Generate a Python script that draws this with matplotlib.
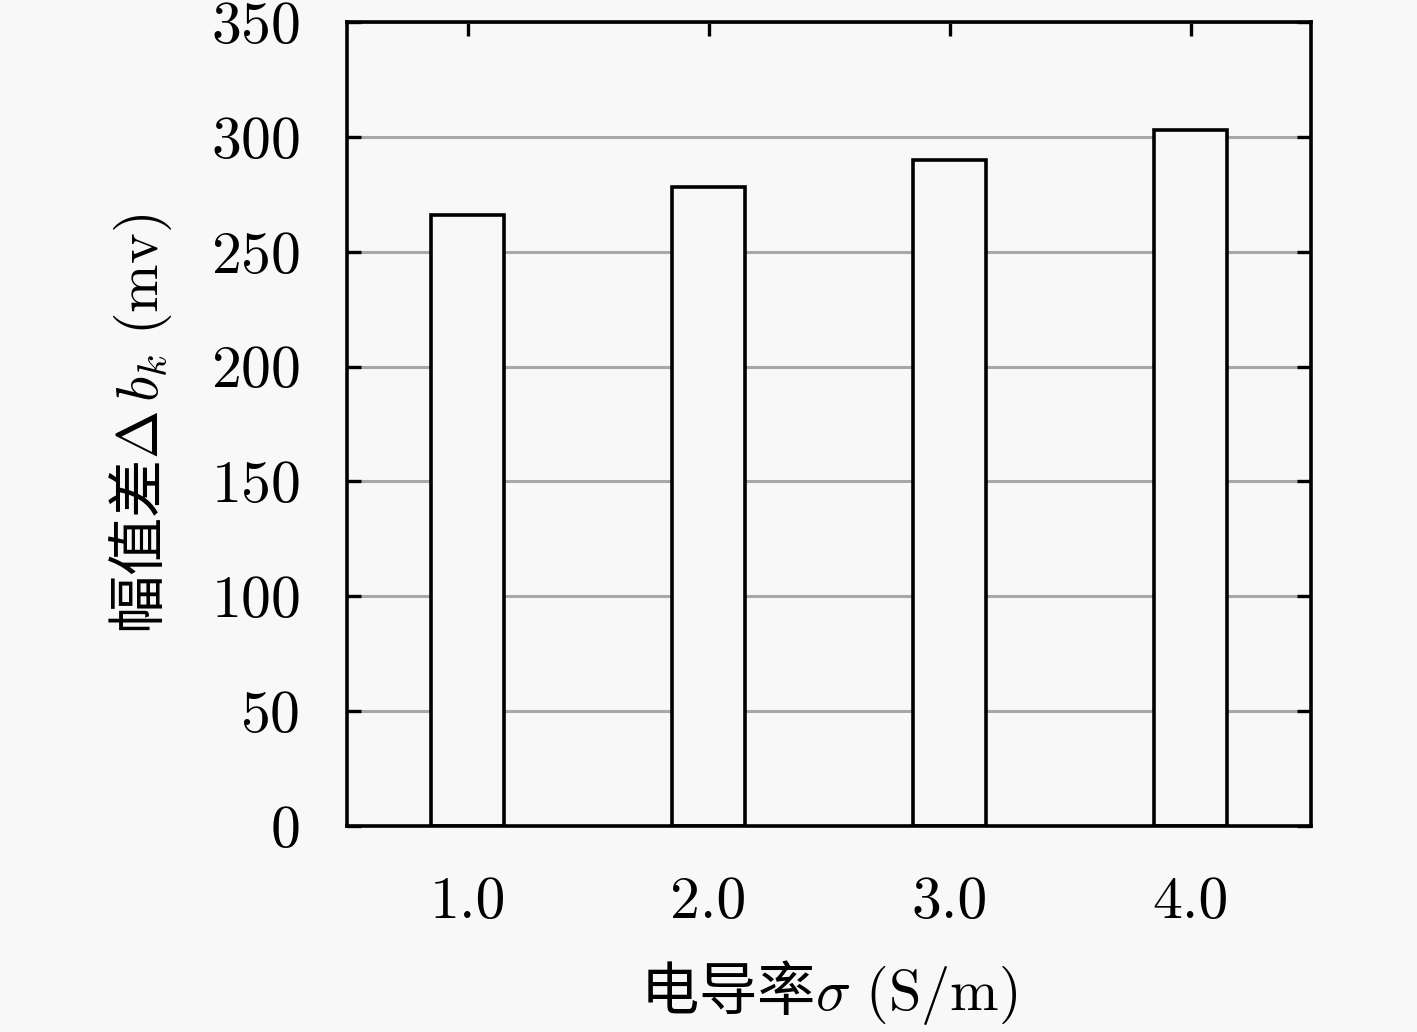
import matplotlib
matplotlib.use("Agg")
import matplotlib.pyplot as plt

# datos
sigma = [1.0, 2.0, 3.0, 4.0]
delta_b = [266, 278, 290, 303]
xlabels = ["1.0", "2.0", "3.0", "4.0"]
yticks = [0, 50, 100, 150, 200, 250, 300, 350]

plt.rcParams['font.family'] = ['cmr10', 'DejaVu Serif']
plt.rcParams['mathtext.fontset'] = 'cm'
plt.rcParams['axes.formatter.use_mathtext'] = True

bg = '#f8f8f8'
fig = plt.figure(figsize=(14.17, 10.32), dpi=100, facecolor=bg)
ax = fig.add_axes([0.2449, 0.1996, 0.6803, 0.7791], facecolor=bg)

ax.bar(sigma, delta_b, width=0.3, facecolor=bg, edgecolor='black', linewidth=2.6)

ax.set_xlim(0.5, 4.5)
ax.set_ylim(0, 350)
ax.set_xticks(sigma)
ax.set_xticklabels(xlabels)
ax.set_yticks(yticks)
ax.set_axisbelow(True)
ax.yaxis.grid(True, color='#a8a8a8', linewidth=2.2)

ax.tick_params(axis='both', direction='in', length=10, width=2.4, labelsize=43,
               top=True, right=True)
ax.tick_params(axis='y', pad=34)
ax.tick_params(axis='x', pad=36)
for s in ax.spines.values():
    s.set_linewidth(2.6)

cjk = ['Noto Sans CJK SC']
ax.set_xlabel('电导率$\\sigma\\ \\mathrm{(S/m)}$', fontsize=42, family=cjk, labelpad=20)
ax.set_ylabel('幅值差$\\Delta\\, b_k\\ \\mathrm{(mv)}$', fontsize=42, family=cjk, labelpad=26)

fig.savefig("out.png", dpi=100, facecolor=bg)
